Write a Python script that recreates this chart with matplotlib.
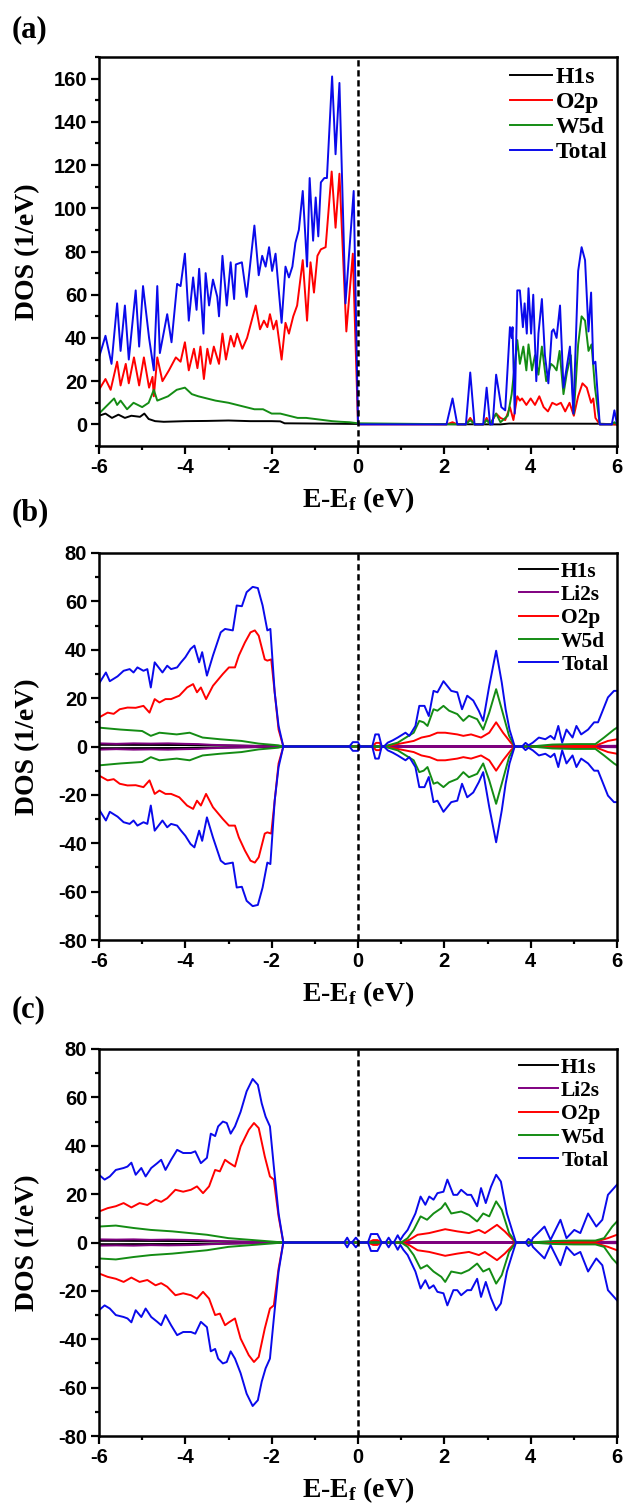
import numpy as np
import matplotlib
matplotlib.use("Agg")
import matplotlib.pyplot as plt
from matplotlib.ticker import MultipleLocator

plt.rcParams['axes.unicode_minus'] = False
plt.rcParams['mathtext.fontset'] = 'custom'
plt.rcParams['mathtext.rm'] = 'Liberation Serif:bold'
plt.rcParams['mathtext.bf'] = 'Liberation Serif:bold'
plt.rcParams['mathtext.it'] = 'Liberation Serif:bold'

# ---------- (a) data : H-WO3, no spin ----------
a_tot_x = [-6.0, -5.85, -5.71, -5.58, -5.5, -5.4, -5.31, -5.15, -5.07, -4.98, -4.84, -4.73, -4.65,
           -4.59, -4.42, -4.32, -4.19, -4.11, -4.01, -3.92, -3.82, -3.74, -3.68, -3.58, -3.53, -3.45,
           -3.36, -3.26, -3.22, -3.14, -3.04, -2.95, -2.87, -2.83, -2.69, -2.58, -2.40, -2.30, -2.22,
           -2.14, -2.06, -1.99, -1.91, -1.77, -1.68, -1.60, -1.52, -1.45, -1.37, -1.28, -1.18, -1.12,
           -1.04, -0.98, -0.92, -0.86, -0.78, -0.72, -0.60, -0.52, -0.43, -0.29, -0.10, 0.0,
           2.05, 2.19, 2.3, 2.5, 2.6, 2.7, 2.9, 2.98, 3.06, 3.12, 3.2, 3.32, 3.41, 3.52, 3.56, 3.58,
           3.63, 3.69, 3.75, 3.82, 3.86, 3.91, 3.95, 4.01, 4.06, 4.13, 4.18, 4.26, 4.33, 4.41, 4.49,
           4.53, 4.6, 4.68, 4.76, 4.84, 4.91, 4.99, 5.1, 5.18, 5.26, 5.34, 5.4, 5.45, 5.5, 5.6,
           5.88, 5.94, 6.0]
a_tot_y = [31, 41, 28, 56, 34, 55, 30, 62, 36, 64, 40, 25, 64,
           33, 51, 38, 65, 64, 79, 48, 68, 53, 72, 42, 70, 55,
           67, 59, 50, 78, 55, 75, 58, 74, 75, 59, 92, 69, 78,
           73, 82, 71, 79, 47, 73, 68, 73, 84, 90, 108, 73, 114,
           85, 105, 87, 112, 114, 114, 161, 125, 158, 56, 108, 0,
           0, 12, 0, 0, 24, 0, 0, 17, 0, 0, 23, 8, 6.5, 45, 40, 45,
           5, 62, 62, 45, 56, 42, 63, 42, 60, 20, 42, 58, 32, 19, 43,
           44, 40, 55, 17, 27, 36, 5, 71, 82, 76, 43, 61, 28, 29, 0,
           0, 6.5, 0]

a_o2p_x = [-6.0, -5.85, -5.73, -5.58, -5.5, -5.38, -5.31, -5.19, -5.07, -4.96, -4.84, -4.76, -4.73,
           -4.65, -4.53, -4.38, -4.22, -4.11, -4.01, -3.92, -3.80, -3.72, -3.65, -3.57, -3.49, -3.42,
           -3.34, -3.22, -3.14, -3.06, -2.95, -2.87, -2.80, -2.68, -2.57, -2.37, -2.27, -2.18, -2.10,
           -2.04, -1.96, -1.89, -1.77, -1.68, -1.60, -1.50, -1.41, -1.33, -1.28, -1.18, -1.10, -1.02,
           -0.94, -0.86, -0.75, -0.61, -0.52, -0.43, -0.27, -0.12, 0.0,
           2.05, 2.19, 2.3, 2.5, 2.6, 2.7, 2.9, 2.98, 3.06, 3.2, 3.3, 3.41, 3.52, 3.6, 3.69, 3.75,
           3.8, 3.9, 4.0, 4.1, 4.2, 4.3, 4.4, 4.5, 4.6, 4.7, 4.8, 4.9, 5.0, 5.1, 5.2, 5.3, 5.4,
           5.45, 5.5, 5.6, 6.0]
a_o2p_y = [16, 21, 16, 29, 18, 28, 19, 31, 18, 31, 17, 22, 13,
           31, 20, 25, 31, 29, 38, 25, 35, 26, 36, 21, 35, 28,
           36, 28, 42, 30, 41, 36, 42, 35, 40, 55, 44, 48, 45,
           51, 44, 48, 30, 47, 42, 50, 55, 68, 76, 48, 75, 61,
           78, 81, 82, 117, 91, 116, 43, 79, 0,
           0, 1, 0, 0, 3, 0, 0, 3, 0, 5, 3, 2, 8, 2, 13, 11,
           12, 9, 12, 9, 13, 8, 6, 10, 9, 10, 6, 10, 4, 13, 19, 17, 10,
           12, 3, 0, 0]

a_w5d_x = [-6.0, -5.85, -5.65, -5.58, -5.5, -5.35, -5.2, -5.0, -4.85, -4.73, -4.65, -4.4, -4.2,
           -4.01, -3.85, -3.7, -3.5, -3.3, -3.0, -2.8, -2.6, -2.4, -2.2, -2.0, -1.8, -1.6, -1.4,
           -1.2, -1.0, -0.8, -0.6, -0.4, -0.2, 0.0,
           2.5, 2.6, 2.7, 2.9, 2.98, 3.06, 3.2, 3.3, 3.47, 3.56, 3.69, 3.75, 3.83, 3.9, 3.95, 4.03,
           4.1, 4.18, 4.26, 4.36, 4.47, 4.53, 4.6, 4.67, 4.76, 4.84, 4.93, 5.0, 5.1, 5.18, 5.26,
           5.34, 5.41, 5.49, 5.6, 5.88, 5.94, 6.0]
a_w5d_y = [5, 8, 12, 9, 11, 7, 10, 8, 10, 16, 11, 13, 16,
           17, 14, 13, 12, 11, 10, 9, 8, 7, 7, 5, 5, 4, 3,
           3, 2.5, 2, 1.5, 1.2, 1, 0.5,
           0, 2, 0, 0, 2, 0, 5, 1, 4, 14, 39, 28, 36, 25, 37, 25,
           32, 23, 36, 20, 28, 27, 25, 34, 14, 24, 32, 5, 37, 50, 48,
           34, 37, 17, 0, 0, 1, 0]

a_h1s_x = [-6.0, -5.85, -5.7, -5.55, -5.4, -5.25, -5.05, -4.95, -4.85, -4.7, -4.5, -4.0, -3.5,
           -3.0, -2.5, -2.0, -1.8, -1.7, -1.0, 0.0, 3.3, 3.5, 5.6, 6.0]
a_h1s_y = [4, 5, 3, 4.5, 3, 4, 3.5, 5, 2.5, 1.5, 1.2, 1.5, 1.6,
           1.8, 1.5, 1.5, 1.4, 0.5, 0.4, 0.2, 0, 0.4, 0.3, 0]

# ---------- (b) data : spin up (spin down is the mirror) ----------
b_tot_x = [-6.0, -5.84, -5.75, -5.57, -5.43, -5.29, -5.2, -5.11, -4.97, -4.88, -4.8, -4.71, -4.62,
           -4.53, -4.42, -4.33, -4.19, -4.1, -4.0, -3.88, -3.79, -3.68, -3.61, -3.5, -3.36, -3.27,
           -3.18, -3.08, -2.9, -2.81, -2.69, -2.58, -2.44, -2.32, -2.21, -2.1, -2.03, -1.93, -1.84,
           -1.73, -0.2, -0.12, 0.0, 0.05, 0.33, 0.4, 0.48, 0.55, 0.6, 0.69, 0.8, 0.92, 1.1, 1.19,
           1.33, 1.42, 1.54, 1.64, 1.75, 1.84, 1.98, 2.07, 2.16, 2.3, 2.41, 2.53, 2.67, 2.8, 2.9,
           3.04, 3.2, 3.33, 3.42, 3.51, 3.63, 3.8, 3.88, 3.95, 4.05, 4.19, 4.34, 4.46, 4.55, 4.64,
           4.73, 4.83, 4.97, 5.06, 5.17, 5.33, 5.47, 5.56, 5.65, 5.79, 5.93, 6.0]
b_tot_y = [26, 30.6, 27, 29, 31.3, 32, 30.6, 32.7, 31.3, 32, 24.4, 34.8, 32.7,
           30.6, 33.4, 32, 32.7, 34.8, 36.9, 40.3, 41.7, 34.8, 39, 29.3, 37.6, 42.4,
           47.2, 48.6, 48, 58.3, 58, 63.8, 66, 65.5, 58.3, 48, 48.6, 22.4, 8.5,
           0, 0, 1.8, 1.8, 0, 0, 5, 5, 0, 0, 1.6, 2.5, 3.7, 5.7, 4.4,
           8.5, 16.8, 16.8, 12.6, 23, 22.4, 27, 25, 23, 22.4, 15.4, 21, 19, 14.7, 10.6,
           25, 39.6, 26.5, 15.4, 7, 0, 0, 1.5, 0.5, 1.6, 3.7, 3, 4.4, 3, 8.5,
           1.6, 7, 3.7, 8.5, 5, 7, 10, 10, 14, 20.3, 23, 23]

b_o2p_x = [-6.0, -5.8, -5.66, -5.52, -5.34, -5.15, -4.97, -4.83, -4.71, -4.6, -4.46, -4.33, -4.14,
           -3.96, -3.82, -3.73, -3.64, -3.52, -3.36, -3.13, -2.99, -2.85, -2.76, -2.62, -2.49,
           -2.39, -2.3, -2.16, -2.1, -2.01, -1.93, -1.84, -1.73, 0.33, 0.42, 0.5, 0.55, 0.6,
           0.92, 1.29, 1.47, 1.66, 1.84, 2.02, 2.3, 2.44, 2.62, 2.85, 3.04, 3.2, 3.36, 3.54, 3.63,
           5.5, 5.79, 6.0]
b_o2p_y = [12, 14, 13.5, 15.4, 16.1, 16, 16.8, 14, 19.6, 18.2, 19.6, 19.6, 21,
           24.4, 25.8, 22.4, 24.4, 19.6, 25.1, 30, 32.7, 32.7, 37.6, 43, 47.2,
           48, 45.8, 36, 35.5, 36, 22.4, 7, 0, 0, 1.5, 1.5, 0, 0,
           1, 2.3, 3.7, 4.4, 5.7, 5.7, 5, 4.4, 5, 3.7, 5.7, 10, 5.7, 1.6, 0,
           0.3, 2.3, 3]

b_w5d_x = [-6.0, -5.5, -5.0, -4.8, -4.6, -4.2, -3.9, -3.6, -3.2, -2.7, -2.3, -1.85, -1.73,
           0.6, 0.92, 1.29, 1.42, 1.52, 1.61, 1.75, 1.84, 1.98, 2.11, 2.3, 2.44, 2.57, 2.76, 2.9,
           3.04, 3.2, 3.33, 3.5, 3.63, 4.0, 4.5, 5.0, 5.5, 5.7, 5.93, 6.0]
b_w5d_y = [7.8, 7, 6.4, 4.4, 5.7, 5, 5.7, 3.7, 3, 2.3, 1.2, 0.5, 0,
           0, 1.6, 5.7, 10.6, 10, 8.5, 15.4, 14.8, 16.8, 14.8, 13.4, 10.6, 12.7, 11.3, 7,
           14, 23.7, 15.4, 4.4, 0, 0, 0.8, 1, 1, 3.7, 7, 7.8]

b_li2s_x = [-6.0, -5.6, -5.2, -4.8, -4.4, -4.0, -3.7, -3.4, -3.0, -2.6, -2.2, -1.73, 0.6, 1.0,
            3.6, 3.63, 4.0, 6.0]
b_li2s_y = [1.3, 1.1, 1.3, 1.2, 1.3, 1.1, 1.0, 0.7, 0.5, 0.3, 0.15, 0, 0, 0.2,
            0.2, 0, 0, 0.3]

b_h1s_x = [-6.0, -4.0, -2.0, -1.73, 6.0]
b_h1s_y = [0.7, 0.6, 0.2, 0, 0]

# ---------- (c) data : spin up (spin down is the mirror) ----------
c_tot_x = [-6.0, -5.87, -5.75, -5.61, -5.43, -5.34, -5.25, -5.15, -5.02, -4.92, -4.79, -4.65,
           -4.56, -4.46, -4.33, -4.19, -4.05, -3.87, -3.77, -3.64, -3.5, -3.41, -3.31, -3.24,
           -3.13, -3.04, -2.95, -2.85, -2.72, -2.58, -2.44, -2.32, -2.23, -2.14, -2.04, -1.95,
           -1.84, -1.73, -0.32, -0.25, -0.19, -0.14, -0.05, 0.04, 0.23, 0.3, 0.45, 0.55, 0.64,
           0.71, 0.78, 0.83, 0.92, 0.98, 1.05, 1.15, 1.33, 1.45, 1.56, 1.65, 1.75, 1.84, 1.98,
           2.07, 2.21, 2.3, 2.39, 2.53, 2.62, 2.76, 2.85, 2.96, 3.08, 3.2, 3.31, 3.45, 3.59, 3.66,
           3.88, 3.95, 4.02, 4.05, 4.32, 4.46, 4.69, 4.83, 5.01, 5.15, 5.33, 5.52, 5.66, 5.79, 6.0]
c_tot_y = [28, 26, 27.3, 30, 30.8, 31.4, 33, 28, 30.8, 27.3, 30.8, 32.8,
           34.2, 30, 34.2, 38.3, 37, 37, 37.7, 32.8, 35, 45, 44, 48,
           50, 49.4, 45, 48, 54, 62.5, 67.6, 65.2, 57.5, 52, 48, 31.4,
           12, 0, 0, 2, 0, 0, 2, 0, 0, 3.5, 3.5, 0, 0,
           2, 0, 0, 3, 1, 3, 5.2, 12, 19, 15.6, 19, 17.7, 20.4, 21,
           26, 19.7, 19.7, 21.8, 19.7, 19.7, 15, 22.5, 16.3, 23, 28, 25.2, 12, 3.9, 0,
           0, 1.5, 0.5, 1.8, 6.6, 1.1, 9.4, 1.8, 5.2, 3.9, 12, 6.6, 9.4, 19.7, 23.9]

c_o2p_x = [-6.0, -5.8, -5.61, -5.43, -5.25, -5.06, -4.88, -4.69, -4.56, -4.42, -4.23, -4.05,
           -3.87, -3.73, -3.59, -3.45, -3.31, -3.2, -3.08, -2.99, -2.85, -2.72, -2.53, -2.41,
           -2.3, -2.16, -2.04, -1.95, -1.84, -1.73, 0.23, 0.35, 0.45, 0.55, 1.0, 1.19, 1.38,
           1.65, 2.02, 2.3, 2.57, 2.8, 2.94, 3.22, 3.4, 3.59, 3.66, 5.5, 5.79, 6.0]
c_o2p_y = [12.8, 14.2, 15, 16.3, 14.5, 16.3, 15.5, 17.7, 16.8, 18.3, 21.8, 21,
           21.8, 23.2, 20.4, 23.2, 30, 29.4, 34.2, 33, 31.4, 39.7, 46.6, 49.4,
           47.3, 35.6, 27.3, 26, 10.8, 0, 0, 1, 1, 0, 0, 1.1, 3.2,
           3.9, 5.5, 4.6, 3.9, 5.2, 3.9, 7.3, 4.6, 1.1, 0, 0.3, 1.8, 3.2]

c_w5d_x = [-6.0, -5.61, -5.2, -4.8, -4.3, -3.9, -3.5, -3.0, -2.5, -2.0, -1.73,
           1.0, 1.15, 1.29, 1.45, 1.6, 1.75, 1.93, 2.02, 2.16, 2.39, 2.57, 2.76, 2.9, 3.04, 3.2,
           3.33, 3.5, 3.66, 4.0, 4.5, 5.0, 5.5, 5.7, 5.89, 6.0]
c_w5d_y = [6.6, 7, 6, 5.2, 4.6, 3.9, 3.2, 1.8, 1.1, 0.4, 0,
           0, 1.8, 5.2, 10.8, 9.4, 12, 14.2, 16.3, 12, 12.8, 11.4, 8.7, 12, 10.8, 17,
           13.5, 3.9, 0, 0, 0.6, 0.8, 0.8, 1.8, 6.6, 8.7]

c_li2s_x = [-6.0, -5.6, -5.2, -4.8, -4.4, -4.0, -3.7, -3.4, -3.0, -2.6, -2.2, -1.73, 1.0, 1.2,
            3.6, 3.66, 4.0, 6.0]
c_li2s_y = [1.3, 1.2, 1.3, 1.1, 1.2, 1.1, 1.0, 0.7, 0.5, 0.3, 0.15, 0, 0, 0.2,
            0.2, 0, 0, 0.3]

c_h1s_x = [-6.0, -4.0, -2.0, -1.73, 6.0]
c_h1s_y = [0.7, 0.6, 0.2, 0, 0]

colors = {"H1s": "#000000", "Li2s": "#800080", "O2p": "#ff0000",
          "W5d": "#148c14", "Total": "#0a0aeb"}

SERIF = "Liberation Serif"
SANS = "Liberation Sans"
LW = 1.4


def style_axes(ax, ylo, yhi):
    ax.set_xlim(-6, 6)
    ax.set_ylim(ylo, yhi)
    ax.xaxis.set_major_locator(MultipleLocator(2))
    ax.xaxis.set_minor_locator(MultipleLocator(1))
    ax.yaxis.set_major_locator(MultipleLocator(20))
    ax.yaxis.set_minor_locator(MultipleLocator(10))
    ax.tick_params(which='both', direction='out', top=False, right=False, width=1.6)
    ax.tick_params(which='major', length=5.5, pad=3)
    ax.tick_params(which='minor', length=3)
    for lab in ax.get_xticklabels() + ax.get_yticklabels():
        lab.set_fontfamily(SANS)
        lab.set_fontweight('bold')
        lab.set_fontsize(14.5)
    for sp in ax.spines.values():
        sp.set_linewidth(1.8)
    ax.axvline(0, color='k', ls=(0, (2.5, 1.5)), lw=1.8, zorder=5)


def add_legend(ax, size):
    ax.legend(loc='upper right', frameon=False, handlelength=1.8, handletextpad=0.15,
              labelspacing=0.15, borderaxespad=0.1, borderpad=0.3,
              prop={'family': SERIF, 'weight': 'bold', 'size': size})


fig = plt.figure(figsize=(6.24, 15.07), dpi=100)
H = 1507.0
W = 624.0
left = 99 / W
width = (617 - 99) / W

ax_a = fig.add_axes([left, 1 - 446 / H, width, 389 / H])
ax_b = fig.add_axes([left, 1 - 940 / H, width, 387 / H])
ax_c = fig.add_axes([left, 1 - 1436 / H, width, 387 / H])

# ---------- (a) ----------
ax_a.plot(a_h1s_x, a_h1s_y, color=colors["H1s"], lw=LW, label="H1s")
ax_a.plot(a_o2p_x, a_o2p_y, color=colors["O2p"], lw=LW, label="O2p")
ax_a.plot(a_w5d_x, a_w5d_y, color=colors["W5d"], lw=LW, label="W5d")
ax_a.plot(a_tot_x, a_tot_y, color=colors["Total"], lw=LW, label="Total")
style_axes(ax_a, -10, 170)
add_legend(ax_a, 17)

# ---------- (b) and (c), spin up and mirrored spin down ----------
spin_sets = [
    (ax_b, [("H1s", b_h1s_x, b_h1s_y), ("Li2s", b_li2s_x, b_li2s_y), ("O2p", b_o2p_x, b_o2p_y),
            ("W5d", b_w5d_x, b_w5d_y), ("Total", b_tot_x, b_tot_y)]),
    (ax_c, [("H1s", c_h1s_x, c_h1s_y), ("Li2s", c_li2s_x, c_li2s_y), ("O2p", c_o2p_x, c_o2p_y),
            ("W5d", c_w5d_x, c_w5d_y), ("Total", c_tot_x, c_tot_y)]),
]
for ax, series in spin_sets:
    for name, xs, ys in series:
        ys = np.array(ys, dtype=float)
        ax.plot(xs, ys, color=colors[name], lw=LW, label=name)
        ax.plot(xs, -ys, color=colors[name], lw=LW)
    style_axes(ax, -80, 80)
    add_legend(ax, 15.5)

# ---------- labels ----------
for ax, tag, tag_y in [(ax_a, "(a)", 30), (ax_b, "(b)", 513), (ax_c, "(c)", 1010)]:
    pos = ax.get_position()
    bottom_px = (1 - pos.y0) * H
    fig.text(358 / W, 1 - (bottom_px + 61) / H, r"E-E$_{\mathrm{f}}$ (eV)",
             ha='center', va='baseline', fontsize=20, family=SERIF, weight='bold')
    fig.text(28 / W, (pos.y0 + pos.y1) / 2, "DOS (1/eV)", rotation=90,
             ha='center', va='center', fontsize=20, family=SERIF, weight='bold')
    fig.text(12 / W, 1 - tag_y / H, tag, ha='left', va='center',
             fontsize=22, family=SERIF, weight='bold')

fig.savefig("out.png", dpi=100)
